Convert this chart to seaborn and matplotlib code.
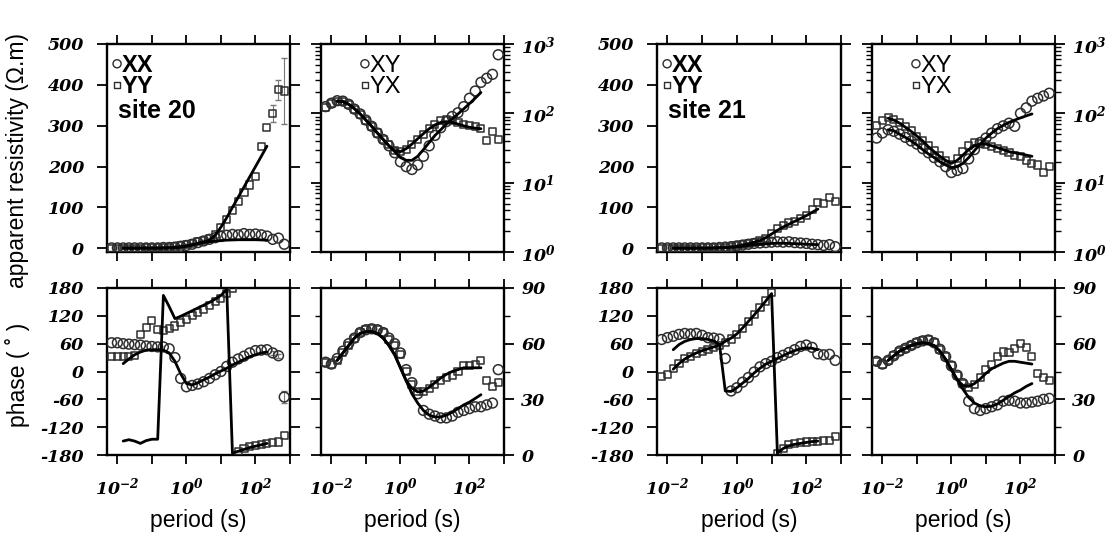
import numpy as np
import matplotlib
matplotlib.use("Agg")
import matplotlib.pyplot as plt
import seaborn as sns
from matplotlib.ticker import LogLocator, NullFormatter

# ---------------------------------------------------------------- data
# sounding periods (s), about six per decade
periods = [0.0068, 0.01, 0.0147, 0.0215, 0.0316, 0.0464, 0.0681, 0.1, 0.147,
           0.215, 0.316, 0.464, 0.681, 1.0, 1.47, 2.15, 3.16, 4.64, 6.81, 10.0,
           14.7, 21.5, 31.6, 46.4, 68.1, 100.0, 147.0, 215.0, 316.0, 464.0, 681.0]
# model responses are computed over the central band only
model_periods = periods[2:28]

# ---- site 20: observed
s20_xx_rho = [1, 1, 1, 1, 1, 1, 1, 1, 1, 2, 2, 3, 5, 7, 10, 14, 18, 22, 26, 29,
              32, 34, 33, 36, 34, 35, 33, 30, 22, 25, 10]
s20_yy_rho = [0, 0, 0, 0, 0, 0, 1, 1, 1, 2, 3, 4, 6, 9, 12, 16, 20, 25, 34, 52,
              70, 92, 115, 137, 155, 175, 250, 295, 330, 388, 385]
s20_yy_rho_tail_err = [20, 25, 80]
s20_xy_rho = [125, 140, 152, 150, 135, 115, 98, 80, 65, 52, 42, 34, 27, 20, 17,
              15.5, 18, 24, 34, 48, 62, 76, 90, 102, 125, 165, 210, 280, 320, 365, 700]
s20_yx_rho = [122, 138, 150, 148, 134, 114, 97, 80, 65, 52, 42, 35, 29, 28, 30,
              35, 42, 50, 60, 68, 78, 82, 80, 74, 70, 67, 64, 60, 40, 55, 42]
s20_xx_phase = [62, 62, 60, 59, 58, 57, 55, 54, 53, 53, 49, 30, -15, -33, -30,
                -27, -22, -15, -7, 0, 11, 20, 27, 33, 40, 45, 46, 47, 40, 34, -55]
s20_xx_phase_tail_err = [4, 4, 12]
s20_yy_phase = [33, 33, 32, 33, 34, 80, 95, 110, 90, 88, 92, 98, 106, 113, 120,
                127, 134, 142, 150, 158, 168, 179, -172, -166, -162, -159, -157,
                -155, -154, -152, -137]
s20_xy_phase = [50, 49, 52, 56, 60, 63, 66, 67.5, 68, 67.5, 66, 63, 60, 55, 46,
                39, 33, 24, 22, 21, 20, 20, 21, 23, 24, 25, 26, 26, 27, 28, 46]
s20_yx_phase = [50, 49, 51, 55, 59, 63, 66, 67.5, 68, 67.5, 66, 62, 59, 54, 45,
                38, 34, 34, 36, 38, 40, 42, 43, 45, 48, 48, 49, 51, 40, 37, 39]

# ---- site 20: model
s20_xx_rho_model = [0.5, 0.5, 0.5, 0.5, 0.5, 0.5, 0.5, 1, 1.5, 2.5, 4, 6, 9, 12,
                    14, 16, 18, 19, 20, 20.5, 21, 21, 21, 21, 20.5, 20]
s20_yy_rho_model = [0.5, 0.5, 0.5, 0.5, 0.5, 0.5, 0.5, 0.5, 0.5, 1.5, 3, 5, 8,
                    12, 16, 20, 32, 52, 75, 100, 125, 150, 175, 200, 225, 250]
s20_xy_rho_model = [150, 148, 135, 117, 98, 80, 65, 52, 42, 34, 28, 23, 21, 21,
                    24, 30, 38, 48, 58, 70, 83, 98, 116, 138, 166, 200]
s20_yx_rho_model = [150, 148, 135, 117, 98, 80, 65, 52, 42, 34, 29, 28, 31, 36,
                    43, 51, 60, 68, 74, 76, 74, 70, 66, 63, 61, 60]
s20_xx_phase_model = [17, 27, 36, 42, 46, 47, 47, 46, 40, 22, -5, -26, -29, -24,
                      -18, -12, -5, 1, 7, 14, 20, 26, 32, 36, 40, 42]
s20_yy_phase_model = [-150, -147, -150, -155, -149, -146, -146, 164, 140, 114,
                      119, 125, 131, 137, 143, 149, 156, 164, 177, -176, -172,
                      -168, -164, -161, -158, -155]
s20_xy_phase_model = [51, 55, 59, 63, 65.5, 66.5, 66.5, 65.5, 63, 59, 54, 47, 40,
                      33, 28, 24, 21.5, 20.5, 20.5, 21.5, 23, 25, 27, 28.5, 30.5, 32.5]
s20_yx_phase_model = [51, 55, 59, 63, 65.5, 66.5, 66.5, 65.5, 63, 59, 54, 47, 40,
                      36, 34, 34.5, 36.5, 39, 41.5, 43.5, 45, 46, 47, 47, 47, 47]

# ---- site 21: observed
s21_xx_rho = [1, 1, 1, 1, 1, 1, 1, 1, 1, 1, 2, 3, 4, 6, 8, 10, 12, 13, 14, 15,
              16, 15, 16, 14, 13, 12, 10, 9, 7, 9, 4]
s21_yy_rho = [0, 0, 0, 0, 0, 0, 0, 1, 1, 1, 2, 3, 4, 6, 9, 11, 14, 18, 24, 35,
              48, 55, 62, 66, 72, 80, 95, 112, 110, 125, 115]
s21_xy_rho = [44, 52, 58, 55, 50, 45, 40, 36, 31, 27, 23, 20, 17, 14, 15, 16, 22,
              30, 38, 44, 52, 60, 66, 72, 65, 100, 120, 150, 165, 178, 195]
s21_yx_rho = [66, 78, 88, 82, 73, 64, 56, 47, 40, 34, 29, 25, 21, 18, 22, 28, 34,
              38, 37, 36, 33, 31, 29, 27, 25, 24, 21, 19, 18, 14, 17]
s21_xx_phase = [69, 73, 76, 80, 82, 81, 82, 78, 73, 72, 70, 28, -42, -35, -23,
                -13, -1, 10, 17, 22, 30, 35, 41, 47, 54, 57, 52, 38, 36, 37, 24]
s21_yy_phase = [-10, -6, 6, 18, 28, 33, 39, 44, 48, 52, 57, 63, 70, 80, 93, 108,
                123, 138, 152, 170, -177, -166, -158, -155, -154, -152, -151,
                -150, -149, -148, -140]
s21_xy_phase = [50.5, 49, 51, 53.5, 56, 57.5, 59, 60.5, 61.5, 62, 60.5, 57, 53,
                48, 43, 38.5, 29, 25, 24, 25, 26, 27, 29, 29.5, 29, 28, 28, 28.5,
                29, 30, 30.5]
s21_yx_phase = [50.5, 49, 51, 53.5, 56, 57.5, 59, 60.5, 61.5, 62, 60.5, 57, 53,
                48, 43, 38.5, 36.5, 38, 42, 46, 49, 53, 55.5, 55, 57.5, 60, 58,
                53, 44, 42, 40]

# ---- site 21: model
s21_xx_rho_model = [0.5, 0.5, 0.5, 0.5, 0.5, 0.5, 0.5, 0.5, 1, 1.5, 2.5, 3.5, 5,
                    7, 9, 10, 11, 12, 12.5, 12.5, 12, 11.5, 11, 10, 9.5, 9]
s21_yy_rho_model = [0.5, 0.5, 0.5, 0.5, 0.5, 0.5, 0.5, 1, 1.5, 2, 3, 5, 8, 11,
                    15, 19, 26, 35, 44, 52, 59, 66, 73, 80, 88, 96]
s21_xy_rho_model = [58, 56, 50, 45, 40, 35, 30, 26, 23, 20, 18, 16.5, 17, 19, 23,
                    29, 36, 44, 52, 60, 67, 74, 80, 86, 92, 98]
s21_yx_rho_model = [85, 80, 72, 63, 55, 47, 40, 33, 28, 24, 21, 19, 21, 25, 30,
                    34, 36, 36, 34, 32, 30, 28, 27, 26, 25, 24]
s21_xx_phase_model = [47, 58, 65, 69, 71, 71, 69, 66, 58, -42, -43, -35, -25,
                      -15, -3, 7, 16, 22, 28, 34, 40, 45, 49, 51, 50, 47]
s21_yy_phase_model = [5, 17, 27, 34, 40, 45, 49, 53, 57, 65, 72, 81, 94, 108,
                      122, 137, 152, 168, -176, -166, -160, -157, -155, -153,
                      -151, -150]
s21_xy_phase_model = [51, 53.5, 56, 57.5, 59, 60, 60.5, 60, 59, 56, 51.5, 46,
                      40.5, 35.5, 31, 28, 26.5, 26, 26.3, 27.5, 29.5, 31.5, 33.5,
                      35, 37, 38.5]
s21_yx_phase_model = [51, 53.5, 56, 57.5, 59, 60, 60.5, 60, 59, 56, 51.5, 46,
                      40.5, 37.5, 37, 38.5, 41, 44, 46.5, 48, 49.5, 50.5, 50.5,
                      50, 49.5, 49]

# ---- axis ticks
period_ticks = [1e-2, 1e-1, 1e0, 1e1, 1e2, 1e3]
period_tick_labels = ["$10^{-2}$", "", "$10^{0}$", "", "$10^{2}$", ""]
lin_rho_ticks = [0, 100, 200, 300, 400, 500]
lin_rho_labels = ["0", "100", "200", "300", "400", "500"]
log_rho_ticks = [1, 10, 100, 1000]
log_rho_labels = ["$10^{0}$", "$10^{1}$", "$10^{2}$", "$10^{3}$"]
full_phase_ticks = [-180, -120, -60, 0, 60, 120, 180]
full_phase_labels = ["-180", "-120", "-60", "0", "60", "120", "180"]
quad_phase_ticks = [0, 30, 60, 90]
quad_phase_labels = ["0", "30", "60", "90"]
quad_phase_minor = [15, 45, 75]

# ---------------------------------------------------------------- style
W, H = 1112, 535
sns.set_theme(style="ticks")
plt.rcParams.update({
    "font.family": ["DejaVu Serif"],
    "font.weight": "bold",
    "font.style": "italic",
    "text.color": "black",
    "axes.labelcolor": "black",
    "axes.unicode_minus": False,
    "mathtext.fontset": "custom",
    "mathtext.rm": "DejaVu Serif:italic:bold",
    "mathtext.it": "DejaVu Serif:italic:bold",
    "mathtext.bf": "DejaVu Serif:italic:bold",
    "axes.linewidth": 1.7,
    "axes.edgecolor": "black",
    "xtick.color": "black",
    "ytick.color": "black",
    "xtick.labelcolor": "black",
    "ytick.labelcolor": "black",
})
SANS = "Liberation Sans"
TICK_SIZE = 12.5
MARK = "#2e2e2e"

fig = plt.figure(figsize=(W / 100, H / 100), dpi=100)


def px_axes(cols, rows):
    left, right = cols
    top, bottom = rows
    return fig.add_axes([left / W, 1 - bottom / H, (right - left) / W, (bottom - top) / H])


COLS = [(107, 290), (321, 504), (657, 841), (872, 1055)]
TOP_ROW = (44, 252)
BOTTOM_ROW = (288, 455)


def frame(ax, labels_left, labels_bottom):
    ax.set_xscale("log")
    ax.set_xlim(0.005, 1000)
    ax.set_xticks(period_ticks, period_tick_labels if labels_bottom else [""] * 6)
    ax.xaxis.set_minor_locator(LogLocator(base=10, subs=np.arange(2, 10)))
    ax.xaxis.set_minor_formatter(NullFormatter())
    ax.tick_params(axis="both", which="both", direction="out", top=True,
                   bottom=True, left=True, right=True, labeltop=False,
                   labelbottom=labels_bottom, labelleft=labels_left,
                   labelright=not labels_left, labelsize=TICK_SIZE,
                   colors="black")
    ax.tick_params(axis="x", which="major", length=6.5, width=1.3, pad=9)
    ax.tick_params(axis="x", which="minor", length=3.8, width=1.0)
    ax.tick_params(axis="y", which="major", length=7.5, width=1.3,
                   pad=9 if labels_left else 5)
    ax.tick_params(axis="y", which="minor", length=4.5, width=1.0)
    ax.set_xlabel("")
    ax.set_ylabel("")
    for sp in ax.spines.values():
        sp.set_visible(True)
        sp.set_linewidth(1.7)


def observed(ax, a, b):
    sns.scatterplot(x=periods, y=a, ax=ax, marker="o", s=50,
                    facecolor="none", edgecolor=MARK, linewidth=1.1, zorder=3)
    sns.scatterplot(x=periods, y=b, ax=ax, marker="s", s=26,
                    facecolor="none", edgecolor=MARK, linewidth=1.1, zorder=3)


def modelled(ax, a, b):
    for series in (a, b):
        sns.lineplot(x=model_periods, y=series, ax=ax, color="black",
                     linewidth=2.0, sort=False, estimator=None, zorder=4)


def tail_errors(ax, values, errs):
    n = len(errs)
    ax.errorbar(periods[-n:], values[-n:], yerr=errs, fmt="none",
                ecolor="#777777", elinewidth=0.8, capsize=2, zorder=2)


def key(ax, x, names, site=None):
    ys = [0.905, 0.805]
    for (name, mk, ms), y in zip(names, ys):
        ax.scatter([x], [y], transform=ax.transAxes, marker=mk, s=ms,
                   facecolor="none", edgecolor=MARK, linewidth=1.0,
                   clip_on=False, zorder=5)
        ax.text(x + 0.025, y - 0.01, name, transform=ax.transAxes,
                ha="left", va="center", fontsize=17, family=SANS,
                weight="bold" if site else "normal", style="normal",
                color="black")
    if site:
        ax.text(x + 0.005, 0.68, site, transform=ax.transAxes, ha="left",
                va="center", fontsize=18, family=SANS, weight="bold",
                style="normal", color="black")


sites = [
    dict(name="site 20", col=0,
         diag_rho=(s20_xx_rho, s20_yy_rho, s20_xx_rho_model, s20_yy_rho_model),
         off_rho=(s20_xy_rho, s20_yx_rho, s20_xy_rho_model, s20_yx_rho_model),
         diag_ph=(s20_xx_phase, s20_yy_phase, s20_xx_phase_model, s20_yy_phase_model),
         off_ph=(s20_xy_phase, s20_yx_phase, s20_xy_phase_model, s20_yx_phase_model)),
    dict(name="site 21", col=2,
         diag_rho=(s21_xx_rho, s21_yy_rho, s21_xx_rho_model, s21_yy_rho_model),
         off_rho=(s21_xy_rho, s21_yx_rho, s21_xy_rho_model, s21_yx_rho_model),
         diag_ph=(s21_xx_phase, s21_yy_phase, s21_xx_phase_model, s21_yy_phase_model),
         off_ph=(s21_xy_phase, s21_yx_phase, s21_xy_phase_model, s21_yx_phase_model)),
]

for site in sites:
    c = site["col"]

    # diagonal apparent resistivity (linear)
    ax = px_axes(COLS[c], TOP_ROW)
    a, b, ma, mb = site["diag_rho"]
    observed(ax, a, b)
    modelled(ax, ma, mb)
    if site["name"] == "site 20":
        tail_errors(ax, s20_yy_rho, s20_yy_rho_tail_err)
    frame(ax, True, False)
    ax.set_ylim(-9, 500)
    ax.set_yticks(lin_rho_ticks, lin_rho_labels)
    key(ax, 0.055, [("XX", "o", 34), ("YY", "s", 18)], site["name"])

    # off-diagonal apparent resistivity (log)
    ax = px_axes(COLS[c + 1], TOP_ROW)
    ax.set_yscale("log")
    a, b, ma, mb = site["off_rho"]
    observed(ax, a, b)
    modelled(ax, ma, mb)
    frame(ax, False, False)
    ax.set_ylim(1, 1000)
    ax.set_yticks(log_rho_ticks, log_rho_labels)
    ax.yaxis.set_minor_locator(LogLocator(base=10, subs=np.arange(2, 10)))
    ax.yaxis.set_minor_formatter(NullFormatter())
    key(ax, 0.24, [("XY", "o", 34), ("YX", "s", 18)])

    # diagonal phase
    ax = px_axes(COLS[c], BOTTOM_ROW)
    a, b, ma, mb = site["diag_ph"]
    observed(ax, a, b)
    modelled(ax, ma, mb)
    if site["name"] == "site 20":
        tail_errors(ax, s20_xx_phase, s20_xx_phase_tail_err)
    frame(ax, True, True)
    ax.set_ylim(-180, 180)
    ax.set_yticks(full_phase_ticks, full_phase_labels)

    # off-diagonal phase
    ax = px_axes(COLS[c + 1], BOTTOM_ROW)
    a, b, ma, mb = site["off_ph"]
    observed(ax, a, b)
    modelled(ax, ma, mb)
    frame(ax, False, True)
    ax.set_ylim(0, 90)
    ax.set_yticks(quad_phase_ticks, quad_phase_labels)
    ax.set_yticks(quad_phase_minor, minor=True)

# shared axis titles
for left, right in COLS:
    fig.text((left + right) / 2 / W, 1 - 520 / H, "period (s)", ha="center",
             va="center", fontsize=16.5, family=SANS, weight="normal",
             style="normal", color="black")
fig.text(18 / W, 1 - 160 / H, "apparent resistivity (Ω.m)", rotation=90,
         ha="center", va="center", fontsize=16.5, family=SANS,
         weight="normal", style="normal", color="black")
fig.text(18 / W, 1 - 375 / H, "phase ( ˚ )", rotation=90, ha="center",
         va="center", fontsize=16.5, family=SANS, weight="normal",
         style="normal", color="black")

fig.savefig("out.png", dpi=100)
